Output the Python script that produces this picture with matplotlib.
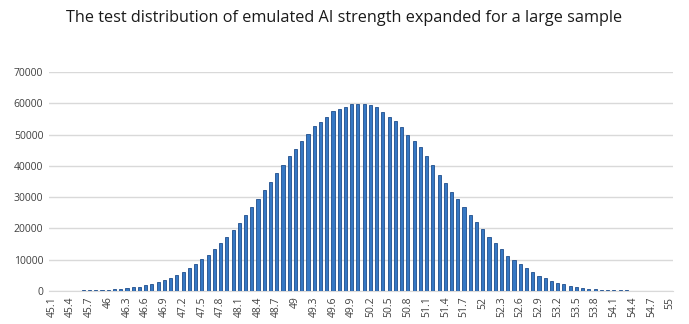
import matplotlib.pyplot as plt
import numpy as np

# valores (45.1 ... 55.0, paso 0.1)
categorias = [f"{v / 10:g}" for v in range(451, 551)]
frecuencias = [
    30, 50, 70, 100, 130, 170, 220, 300, 350, 450,
    600, 750, 950, 1200, 1350, 1800, 2300, 2900, 3400, 4200,
    5200, 6200, 7200, 8500, 10100, 11400, 13300, 15300, 17200, 19600,
    21800, 24400, 26900, 29500, 32300, 34800, 37800, 40400, 43200, 45400,
    47900, 50300, 52600, 54000, 55700, 57600, 58100, 58800, 59700, 59800,
    59600, 59500, 58900, 57100, 55500, 54300, 52400, 50000, 47800, 46100,
    43000, 40400, 37200, 34600, 31700, 29500, 26900, 24400, 21900, 19900,
    17100, 15200, 13500, 11300, 10000, 8500, 7200, 6100, 4900, 4100,
    3300, 2700, 2100, 1700, 1200, 1000, 750, 500, 400, 300,
    250, 200, 150, 100, 80, 60, 50, 40, 30, 20,
]
titulo = 'The test distribution of emulated AI strength expanded for a large sample'

plt.rcParams['font.family'] = ['Open Sans', 'DejaVu Sans']

fig = plt.figure(figsize=(6.89, 3.24), dpi=100)
ax = fig.add_axes([0.071, 0.102, 0.906, 0.676])

x = np.arange(len(categorias))
ax.bar(x, frecuencias, width=0.5, color='#3678c4', edgecolor='#1f4e8c', linewidth=0.6, zorder=3)

ax.set_xlim(-0.5, len(categorias) - 0.5)
ax.set_ylim(0, 70000)
ax.set_yticks(range(0, 70001, 10000))
ax.set_yticklabels([str(v) for v in range(0, 70001, 10000)], fontsize=7.5, color='#404040')
ax.set_xticks(x[::3])
ax.set_xticklabels(categorias[::3], rotation=90, fontsize=7.5, color='#404040')
ax.tick_params(axis='both', length=0, pad=4)

ax.grid(axis='y', color='#d9d9d9', linewidth=1, zorder=0)
for lado in ['top', 'right', 'left']:
    ax.spines[lado].set_visible(False)
ax.spines['bottom'].set_color('#d9d9d9')

fig.text(0.5, 0.944, titulo, ha='center', va='center', fontsize=11.7, color='#1a1a1a')

plt.savefig('out.png', dpi=100)
plt.close(fig)
